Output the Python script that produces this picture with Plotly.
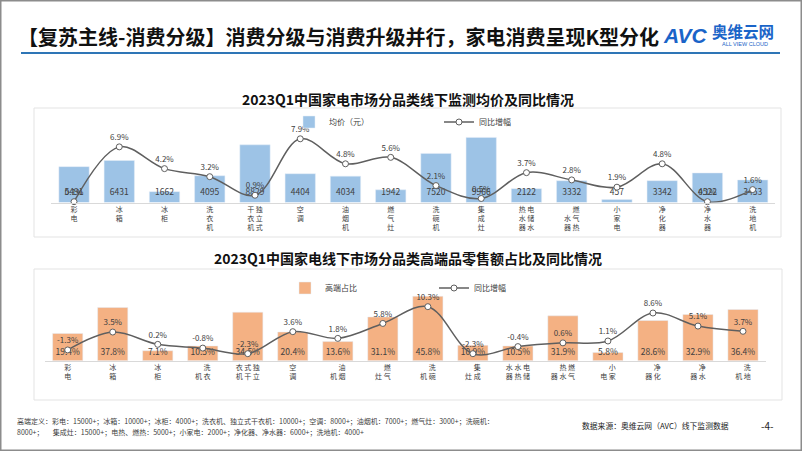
import plotly.graph_objects as go

# ---------------- data ----------------
categories = ["彩电", "冰箱", "冰柜", "洗衣机", "独立式干衣机", "空调", "油烟机", "燃气灶",
              "洗碗机", "集成灶", "电储水热水器", "燃气热水器", "小家电", "净化器", "净水器", "洗地机"]

top_tick_labels = ["彩<br>电", "冰<br>箱", "冰<br>柜", "洗<br>衣<br>机", "干 独<br>衣 立<br>机 式",
                   "空<br>调", "油<br>烟<br>机", "燃<br>气<br>灶", "洗<br>碗<br>机", "集<br>成<br>灶",
                   "热 电<br>水 储<br>器 水", "　 燃<br>水 气<br>器 热", "小<br>家<br>电", "净<br>化<br>器",
                   "净<br>水<br>器", "洗<br>地<br>机"]

bottom_tick_labels = ["彩<br>电", "冰<br>箱", "冰<br>柜", "　 洗<br>机 衣", "衣 式 独<br>机 干 立",
                      "空<br>调", "　 油<br>机 烟", "　 燃<br>灶 气", "　 洗<br>机 碗", "　 集<br>灶 成",
                      "水 水 电<br>器 热 储", "　 热 燃<br>器 水 气", "　 小<br>电 家", "　 净<br>器 化",
                      "　 净<br>器 水", "　 洗<br>机 地"]

avg_price = [5491, 6431, 1662, 4095, 8829, 4404, 4034, 1942, 7520, 9966, 2122, 3332, 457, 3342, 4522, 3453]
price_yoy = [0.1, 6.9, 4.2, 3.2, 0.9, 7.9, 4.8, 5.6, 2.1, 0.5, 3.7, 2.8, 1.9, 4.8, 0.1, 1.6]

high_share = [19.4, 37.8, 7.1, 10.5, 34.5, 20.4, 13.6, 31.1, 45.8, 10.9, 10.5, 31.9, 5.8, 28.6, 32.9, 36.4]
share_yoy = [-1.3, 3.5, 0.2, -0.8, -2.3, 3.6, 1.8, 5.8, 10.3, -2.3, -0.4, 0.6, 1.1, 8.6, 5.1, 3.7]

# ---------------- style ----------------
W, H = 802, 451
FONT = "Noto Sans CJK SC"
BLUE_BAR = "#9dc3e6"
ORANGE_BAR = "#f4b183"
LINE_C = "#5f5f5f"
TXT = "#404040"
LOGO = "#1a64c8"

TOP_RANGE = [0, 12170]
BOT_RANGE = [0, 51.7]
N = len(categories)


def px_x(p):
    return p / W


def px_y(p):
    return 1 - p / H


fig = go.Figure()

# ---- top chart ----
fig.add_trace(go.Bar(
    x=categories, y=avg_price, name="均价（元）", marker_color=BLUE_BAR,
    xaxis="x", yaxis="y", legend="legend",
))
fig.add_trace(go.Scatter(
    x=categories, y=[TOP_RANGE[1] * 0.12] * N, mode="text",
    text=[str(v) for v in avg_price], textposition="middle center",
    textfont=dict(size=8.5, color=TXT, family=FONT),
    xaxis="x", yaxis="y", showlegend=False, hoverinfo="skip", cliponaxis=False,
))
fig.add_trace(go.Scatter(
    x=categories, y=price_yoy, name="同比增幅", mode="lines+markers+text",
    line=dict(color=LINE_C, width=1.5, shape="spline", smoothing=1),
    marker=dict(size=6, color="white", line=dict(color=LINE_C, width=1)),
    text=[f"{v}%" for v in price_yoy], textposition="top center",
    textfont=dict(size=8, color=TXT, family=FONT),
    xaxis="x", yaxis="y2", legend="legend", cliponaxis=False,
))

# ---- bottom chart ----
fig.add_trace(go.Bar(
    x=categories, y=high_share, name="高端占比", marker_color=ORANGE_BAR,
    xaxis="x2", yaxis="y3", legend="legend2",
))
fig.add_trace(go.Scatter(
    x=categories, y=[BOT_RANGE[1] * 0.11] * N, mode="text",
    text=[f"{v}%" for v in high_share], textposition="middle center",
    textfont=dict(size=8.5, color=TXT, family=FONT),
    xaxis="x2", yaxis="y3", showlegend=False, hoverinfo="skip", cliponaxis=False,
))
fig.add_trace(go.Scatter(
    x=categories, y=share_yoy, name="同比增幅", mode="lines+markers+text",
    line=dict(color=LINE_C, width=1.5, shape="spline", smoothing=1),
    marker=dict(size=6, color="white", line=dict(color=LINE_C, width=1)),
    text=[f"{v}%" for v in share_yoy], textposition="top center",
    textfont=dict(size=8, color=TXT, family=FONT),
    xaxis="x2", yaxis="y4", legend="legend2", cliponaxis=False,
))

axis_common = dict(showgrid=False, zeroline=False, showticklabels=False, ticks="")
xcommon = dict(type="category", showgrid=False, zeroline=False, showline=True,
               linecolor="#d9d9d9", linewidth=1, ticks="", range=[-0.5, N - 0.5],
               tickfont=dict(size=7, color=TXT, family=FONT), tickangle=0)

fig.update_layout(
    width=W, height=H, margin=dict(l=0, r=0, t=0, b=0, autoexpand=False),
    paper_bgcolor="white", plot_bgcolor="rgba(0,0,0,0)",
    font=dict(family=FONT, color=TXT),
    bargap=0.33,
    xaxis=dict(domain=[px_x(51.4), px_x(775.3)], anchor="y",
               tickvals=categories, ticktext=top_tick_labels, **xcommon),
    yaxis=dict(domain=[px_y(202.5), px_y(123)], range=TOP_RANGE, anchor="x", **axis_common),
    yaxis2=dict(overlaying="y", range=[0, 9.86], anchor="x", side="right", **axis_common),
    xaxis2=dict(domain=[px_x(45.2), px_x(765.5)], anchor="y3",
                tickvals=categories, ticktext=bottom_tick_labels, **xcommon),
    yaxis3=dict(domain=[px_y(360.7), px_y(288)], range=BOT_RANGE, anchor="x2", **axis_common),
    yaxis4=dict(overlaying="y3", range=[-4.18, 15.3], anchor="x2", side="right", **axis_common),
    legend=dict(orientation="h", x=px_x(289), y=px_y(122), xanchor="left", yanchor="middle",
                font=dict(size=8, color=TXT, family=FONT), bgcolor="rgba(0,0,0,0)",
                entrywidth=105, entrywidthmode="pixels", itemwidth=30),
    legend2=dict(orientation="h", x=px_x(285), y=px_y(288), xanchor="left", yanchor="middle",
                 font=dict(size=8, color=TXT, family=FONT), bgcolor="rgba(0,0,0,0)",
                 entrywidth=104, entrywidthmode="pixels", itemwidth=30),
    showlegend=True,
)

# slide frame
fig.add_shape(type="rect", xref="paper", yref="paper", x0=0, x1=1, y0=0, y1=1,
              line=dict(color="#8c8c8c", width=3))
# chart boxes
fig.add_shape(type="rect", xref="paper", yref="paper", x0=px_x(34), x1=px_x(781),
              y0=px_y(237), y1=px_y(108), line=dict(color="#e3e3e3", width=1))
fig.add_shape(type="rect", xref="paper", yref="paper", x0=px_x(34), x1=px_x(782),
              y0=px_y(400), y1=px_y(269), line=dict(color="#e3e3e3", width=1))
# title underline
fig.add_shape(type="line", xref="paper", yref="paper", x0=px_x(21), x1=px_x(780),
              y0=px_y(53), y1=px_y(53), line=dict(color="#2e75b6", width=2))

ann = [
    dict(text="<b>【复苏主线-消费分级】消费分级与消费升级并行，家电消费呈现K型分化</b>",
         x=px_x(16), y=px_y(36), xanchor="left", yanchor="middle",
         font=dict(size=20, color="#111111", family=FONT)),
    dict(text="<b><i>AVC</i></b>", x=px_x(661), y=px_y(35), xanchor="left", yanchor="middle",
         font=dict(size=21, color=LOGO, family="Liberation Sans")),
    dict(text="<b>奥维云网</b>", x=px_x(710), y=px_y(31), xanchor="left", yanchor="middle",
         font=dict(size=15.5, color=LOGO, family=FONT)),
    dict(text="ALL VIEW CLOUD", x=px_x(720), y=px_y(44), xanchor="left", yanchor="middle",
         font=dict(size=5.5, color=LOGO, family="Liberation Sans")),
    dict(text="<b>2023Q1中国家电市场分品类线下监测均价及同比情况</b>", x=px_x(408), y=px_y(99),
         xanchor="center", yanchor="middle", font=dict(size=14, color="#111111", family=FONT)),
    dict(text="<b>2023Q1中国家电线下市场分品类高端品零售额占比及同比情况</b>", x=px_x(408), y=px_y(258),
         xanchor="center", yanchor="middle", font=dict(size=14, color="#111111", family=FONT)),
    dict(text="高端定义：彩电：15000+；冰箱：10000+；冰柜：4000+；洗衣机、独立式干衣机：10000+；空调：8000+；油烟机：7000+；燃气灶：3000+；洗碗机：",
         x=px_x(15), y=px_y(421), xanchor="left", yanchor="middle",
         font=dict(size=7, color=TXT, family=FONT)),
    dict(text="8000+；      集成灶：15000+；电热、燃热：5000+；小家电：2000+；净化器、净水器：6000+；洗地机：4000+",
         x=px_x(15), y=px_y(432), xanchor="left", yanchor="middle",
         font=dict(size=7, color=TXT, family=FONT)),
    dict(text="数据来源：奥维云网（AVC）线下监测数据", x=px_x(580), y=px_y(425), xanchor="left",
         yanchor="middle", font=dict(size=7.8, color="#222222", family=FONT)),
    dict(text="-4-", x=px_x(767), y=px_y(425), xanchor="center", yanchor="middle",
         font=dict(size=10, color="#222222", family=FONT)),
]
for a in ann:
    a.update(xref="paper", yref="paper", showarrow=False)
fig.update_layout(annotations=ann)

fig.write_html("out.html", config={"displayModeBar": False},
               post_script="document.body.style.margin='0';document.body.style.padding='0';")
